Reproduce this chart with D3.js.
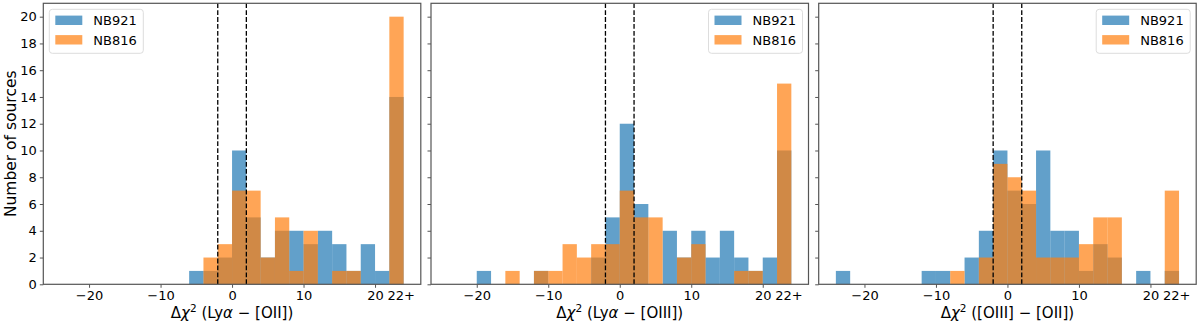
<!DOCTYPE html>
<html>
<head>
<meta charset="utf-8">
<script src="https://cdn.jsdelivr.net/npm/d3@7"></script>
<style>
  body { margin: 0; background: #fff; }
  svg { display: block; font-family: "DejaVu Sans", sans-serif; }
</style>
</head>
<body>
<script>
// histogram bins: width 2, from -24 to 24 (last bin = "22+")
const binStart = -24
const binWidth = 2
const seriesNames = ["NB921", "NB816"]
const xTicks = [-20, -10, 0, 10, 20, 23.6]
const xTickLabels = ["\u221220", "\u221210", "0", "10", "20", "22+"]
const yTicks = [0, 2, 4, 6, 8, 10, 12, 14, 16, 18, 20]
const cutLines = [-2, 2]

// panel 1 : Lya - [OII]
const lyaOII_NB921 = [0,0,0,0,0,0,0,0,0,1,1,2,10,5,2,4,4,3,4,3,1,3,1,14]
const lyaOII_NB816 = [0,0,0,0,0,0,0,0,0,0,2,3,7,7,2,5,1,4,0,1,1,0,0,20]
// panel 2 : Lya - [OIII]
const lyaOIII_NB921 = [0,0,1,0,0,0,1,0,0,0,2,5,12,6,0,4,2,4,2,4,2,1,2,10]
const lyaOIII_NB816 = [0,0,0,0,1,0,1,1,3,2,3,3,7,5,5,0,2,3,0,0,1,1,0,15]
// panel 3 : [OIII] - [OII]
const oiiiOII_NB921 = [1,0,0,0,0,0,1,1,0,2,4,10,7,6,10,4,4,1,3,2,0,1,0,1]
const oiiiOII_NB816 = [0,0,0,0,0,0,0,0,1,0,2,9,8,7,2,2,2,3,5,5,0,0,0,7]

// label pieces: [text, italic]
const panels = [
  {label: [[" (Ly"], ["\u03b1", 1], [" \u2212 [OII])"]], a: lyaOII_NB921, b: lyaOII_NB816, legend: "left"},
  {label: [[" (Ly"], ["\u03b1", 1], [" \u2212 [OIII])"]], a: lyaOIII_NB921, b: lyaOIII_NB816, legend: "right"},
  {label: [[" ([OIII] \u2212 [OII])"]], a: oiiiOII_NB921, b: oiiiOII_NB816, legend: "right"}
]

const width = 1200, height = 327
const colors = ["#1f77b4", "#ff7f0e"]
const axisColor = "#555"

const plotTop = 3.3, plotBottom = 284.3
const panelW = 377.5
const lefts = [43.3, 431, 818.7]

const svg = d3.select("body").append("svg")
  .attr("width", width).attr("height", height)

const y = d3.scaleLinear().domain([0, 21]).range([plotBottom, plotTop])

panels.forEach((p, pi) => {
  const left = lefts[pi]
  const x = d3.scaleLinear().domain([-26.4, 26.4]).range([left, left + panelW])
  const g = svg.append("g")

  // bars: NB921 first, NB816 on top
  ;[p.a, p.b].forEach((arr, si) => {
    g.append("g").selectAll("rect")
      .data(arr.map((v, i) => ({v, x0: binStart + i*binWidth})).filter(d => d.v > 0))
      .join("rect")
      .attr("x", d => x(d.x0))
      .attr("width", d => x(d.x0 + binWidth) - x(d.x0))
      .attr("y", d => y(d.v))
      .attr("height", d => y(0) - y(d.v))
      .attr("fill", colors[si])
      .attr("fill-opacity", 0.7)
  })

  // dashed cut lines
  g.selectAll("line.cut").data(cutLines).join("line")
    .attr("class", "cut")
    .attr("x1", d => x(d)).attr("x2", d => x(d))
    .attr("y1", plotTop).attr("y2", plotBottom)
    .attr("stroke", "#000").attr("stroke-width", 1.3)
    .attr("stroke-dasharray", "4.8,2.1")

  // axes
  const ax = g.append("g").attr("transform", `translate(0,${plotBottom})`)
    .call(d3.axisBottom(x).tickValues(xTicks).tickFormat((d, i) => xTickLabels[i]).tickSize(3.5).tickPadding(3))
  ax.select(".domain").remove()
  ax.selectAll("line").attr("stroke", axisColor)
  ax.selectAll(".tick").filter(d => d === 23.6).select("line").remove()
  ax.selectAll("text").attr("font-size", 13).attr("fill", "#000").attr("font-family", "DejaVu Sans")

  const ay = g.append("g").attr("transform", `translate(${left},0)`)
    .call(d3.axisLeft(y).tickValues(yTicks).tickSize(3.5).tickPadding(3))
  ay.select(".domain").remove()
  ay.selectAll("line").attr("stroke", axisColor)
  ay.selectAll("text").attr("font-size", 13).attr("fill", "#000").attr("font-family", "DejaVu Sans")
  if (pi > 0) ay.selectAll("text").remove()

  // frame
  g.append("rect")
    .attr("x", left).attr("y", plotTop)
    .attr("width", panelW).attr("height", plotBottom - plotTop)
    .attr("fill", "none").attr("stroke", axisColor).attr("stroke-width", 1.2)

  // x label
  const xl = g.append("text")
    .attr("x", left + panelW/2).attr("y", 318)
    .attr("text-anchor", "middle").attr("font-size", 15)
  xl.append("tspan").text("\u0394")
  xl.append("tspan").attr("font-style", "italic").text("\u03c7")
  xl.append("tspan").attr("font-size", 10.5).attr("dy", -6).text("2")
  p.label.forEach((s, k) => {
    const t = xl.append("tspan").text(s[0])
    if (k === 0) t.attr("dy", 6)
    if (s[1]) t.attr("font-style", "italic")
  })

  // legend
  const lw = 94, lh = 44
  const lx = p.legend === "left" ? left + 6 : left + panelW - 6 - lw
  const ly = 9.3
  const leg = g.append("g").attr("transform", `translate(${lx},${ly})`)
  leg.append("rect").attr("width", lw).attr("height", lh).attr("rx", 3)
    .attr("fill", "#fff").attr("fill-opacity", 0.8)
    .attr("stroke", "#ddd").attr("stroke-width", 1)
  seriesNames.forEach((n, i) => {
    const cy = 11 + i*19.5
    leg.append("rect").attr("x", 6).attr("y", cy - 4.7).attr("width", 27).attr("height", 9.4)
      .attr("fill", colors[i]).attr("fill-opacity", 0.7)
    leg.append("text").attr("x", 44).attr("y", cy + 4.8)
      .attr("font-size", 13).text(n)
  })
})

// y label
svg.append("text")
  .attr("transform", `translate(16,${(plotTop + plotBottom)/2}) rotate(-90)`)
  .attr("text-anchor", "middle").attr("font-size", 15.5)
  .text("Number of sources")
</script>
</body>
</html>
